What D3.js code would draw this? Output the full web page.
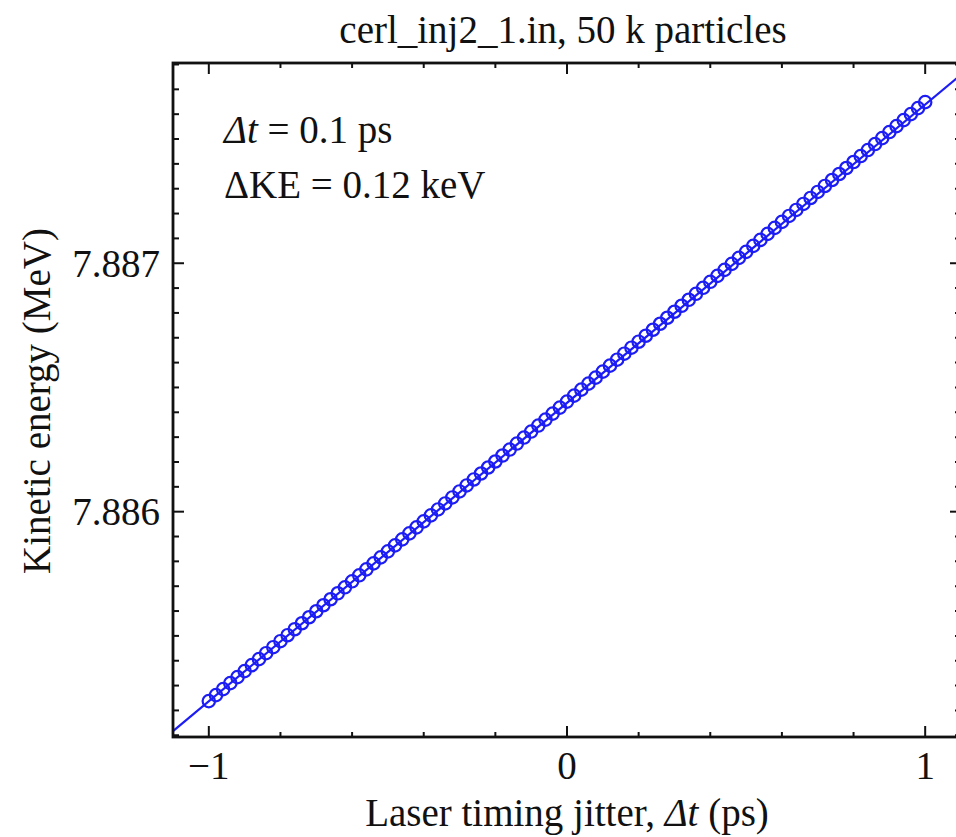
<!DOCTYPE html>
<html>
  <head>
    <meta http-equiv="Content-Type" content="text/html; charset=utf-8" />
    <style>
    body {
      margin: 0;
      background: #fff;
      overflow: hidden;
    }
    svg text {
      font-family: "Liberation Serif", "DejaVu Serif", serif;
      fill: #111;
    }
    </style>
    <script src="https://cdn.jsdelivr.net/npm/d3@7"></script>
  </head>
  <body>
    <script>
    // laser timing jitter (ps)
    var jitter = [
      -1, -0.98, -0.96, -0.94, -0.92, -0.9, -0.88, -0.86, -0.84, -0.82,
      -0.8, -0.78, -0.76, -0.74, -0.72, -0.7, -0.68, -0.66, -0.64, -0.62,
      -0.6, -0.58, -0.56, -0.54, -0.52, -0.5, -0.48, -0.46, -0.44, -0.42,
      -0.4, -0.38, -0.36, -0.34, -0.32, -0.3, -0.28, -0.26, -0.24, -0.22,
      -0.2, -0.18, -0.16, -0.14, -0.12, -0.1, -0.08, -0.06, -0.04, -0.02,
      0, 0.02, 0.04, 0.06, 0.08, 0.1, 0.12, 0.14, 0.16, 0.18,
      0.2, 0.22, 0.24, 0.26, 0.28, 0.3, 0.32, 0.34, 0.36, 0.38,
      0.4, 0.42, 0.44, 0.46, 0.48, 0.5, 0.52, 0.54, 0.56, 0.58,
      0.6, 0.62, 0.64, 0.66, 0.68, 0.7, 0.72, 0.74, 0.76, 0.78,
      0.8, 0.82, 0.84, 0.86, 0.88, 0.9, 0.92, 0.94, 0.96, 0.98,
      1
    ];
    // kinetic energy (MeV)
    var kineticEnergy = [
      7.8852375, 7.8852616, 7.8852857, 7.8853098, 7.8853339, 7.8853581, 7.8853822, 7.8854063, 7.8854304, 7.8854545,
      7.8854786, 7.8855027, 7.8855268, 7.8855509, 7.8855750, 7.8855992, 7.8856233, 7.8856474, 7.8856715, 7.8856956,
      7.8857197, 7.8857438, 7.8857679, 7.8857920, 7.8858161, 7.8858403, 7.8858644, 7.8858885, 7.8859126, 7.8859367,
      7.8859608, 7.8859849, 7.8860090, 7.8860331, 7.8860572, 7.8860814, 7.8861055, 7.8861296, 7.8861537, 7.8861778,
      7.8862019, 7.8862260, 7.8862501, 7.8862742, 7.8862983, 7.8863225, 7.8863466, 7.8863707, 7.8863948, 7.8864189,
      7.8864430, 7.8864671, 7.8864912, 7.8865153, 7.8865394, 7.8865636, 7.8865877, 7.8866118, 7.8866359, 7.8866600,
      7.8866841, 7.8867082, 7.8867323, 7.8867564, 7.8867805, 7.8868047, 7.8868288, 7.8868529, 7.8868770, 7.8869011,
      7.8869252, 7.8869493, 7.8869734, 7.8869975, 7.8870216, 7.8870458, 7.8870699, 7.8870940, 7.8871181, 7.8871422,
      7.8871663, 7.8871904, 7.8872145, 7.8872386, 7.8872627, 7.8872869, 7.8873110, 7.8873351, 7.8873592, 7.8873833,
      7.8874074, 7.8874315, 7.8874556, 7.8874797, 7.8875038, 7.8875280, 7.8875521, 7.8875762, 7.8876003, 7.8876244,
      7.8876485
    ];
    // linear fit, end points across the frame
    var fitJitter = [-1.1, 1.1];
    var fitEnergy = [7.8851170, 7.8877590];

    var xTicks = [-1, 0, 1];
    var xTickLabels = ["\u22121", "0", "1"];
    var yTicks = [7.886, 7.887];
    var yTickLabels = ["7.886", "7.887"];

    var xDomain = [-1.1, 1.1];
    var yDomain = [7.885093, 7.887806];

    var width = 956, height = 837;
    var margin = {top: 63, right: -5, bottom: 100, left: 173};
    var w = width - margin.left - margin.right,
        h = height - margin.top - margin.bottom;

    var svg = d3.select("body").append("svg")
        .attr("width", width)
        .attr("height", height);

    var x = d3.scaleLinear().domain(xDomain).range([0, w]);
    var y = d3.scaleLinear().domain(yDomain).range([h, 0]);

    var g = svg.append("g")
        .attr("transform", "translate(" + margin.left + "," + margin.top + ")");

    var blue = "#1c1cf5";
    var fs = "39px";

    // minor ticks every 0.2 ps, 0.0001 MeV
    var xMinor = d3.range(-10, 11, 2).map(function(d){ return d / 10; });
    var yMinor = d3.range(78851, 78879).map(function(d){ return d / 10000; })
        .filter(function(d){ return d >= yDomain[0] && d <= yDomain[1]; });

    function isMajor(v, list){
      return list.some(function(t){ return Math.abs(t - v) < 1e-7; });
    }

    // bottom + top ticks
    var xt = g.append("g").attr("class", "xticks");
    xMinor.forEach(function(v){
      var len = isMajor(v, xTicks) ? 11 : 5;
      xt.append("line").attr("x1", x(v)).attr("x2", x(v)).attr("y1", h).attr("y2", h - len);
      xt.append("line").attr("x1", x(v)).attr("x2", x(v)).attr("y1", 0).attr("y2", len);
    });
    xt.selectAll("line").attr("stroke", "#111").attr("stroke-width", 2);

    // left + right ticks
    var yt = g.append("g").attr("class", "yticks");
    yMinor.forEach(function(v){
      var len = isMajor(v, yTicks) ? 11 : 6;
      yt.append("line").attr("x1", 0).attr("x2", len).attr("y1", y(v)).attr("y2", y(v));
      yt.append("line").attr("x1", w).attr("x2", w - len).attr("y1", y(v)).attr("y2", y(v));
    });
    yt.selectAll("line").attr("stroke", "#111").attr("stroke-width", 2);

    // fit line
    var line = d3.line()
        .x(function(d){ return x(d[0]); })
        .y(function(d){ return y(d[1]); });
    g.append("path")
        .datum(d3.zip(fitJitter, fitEnergy))
        .attr("d", line)
        .attr("fill", "none")
        .attr("stroke", blue)
        .attr("stroke-width", 2.2);

    // data points
    g.selectAll(".pt")
      .data(d3.zip(jitter, kineticEnergy))
      .enter().append("circle")
        .attr("class", "pt")
        .attr("cx", function(d){ return x(d[0]); })
        .attr("cy", function(d){ return y(d[1]); })
        .attr("r", 6.2)
        .attr("fill", "none")
        .attr("stroke", blue)
        .attr("stroke-width", 2.2);

    // frame
    g.append("rect")
        .attr("width", w).attr("height", h)
        .attr("fill", "none")
        .attr("stroke", "#111")
        .attr("stroke-width", 2.8);

    // tick labels
    g.selectAll(".xlab")
      .data(xTicks)
      .enter().append("text")
        .attr("x", function(d){ return x(d); })
        .attr("y", h + 42)
        .attr("text-anchor", "middle")
        .style("font-size", fs)
        .text(function(d, i){ return xTickLabels[i]; });

    g.selectAll(".ylab")
      .data(yTicks)
      .enter().append("text")
        .attr("x", -13)
        .attr("y", function(d){ return y(d) + 13.5; })
        .attr("text-anchor", "end")
        .style("font-size", fs)
        .text(function(d, i){ return yTickLabels[i]; });

    // title
    svg.append("text")
        .attr("x", 563).attr("y", 43)
        .attr("text-anchor", "middle")
        .style("font-size", fs)
        .text("cerl_inj2_1.in, 50 k particles");

    // axis titles
    var xl = svg.append("text")
        .attr("x", 567).attr("y", 826)
        .attr("text-anchor", "middle")
        .style("font-size", fs);
    xl.append("tspan").text("Laser timing jitter, ");
    xl.append("tspan").style("font-style", "italic").text("\u0394t");
    xl.append("tspan").text(" (ps)");

    svg.append("text")
        .attr("transform", "translate(50,401) rotate(-90)")
        .attr("text-anchor", "middle")
        .style("font-size", fs)
        .text("Kinetic energy (MeV)");

    // annotation
    var a1 = svg.append("text")
        .attr("x", 224).attr("y", 143)
        .style("font-size", fs);
    a1.append("tspan").style("font-style", "italic").text("\u0394t");
    a1.append("tspan").text(" = 0.1 ps");

    svg.append("text")
        .attr("x", 224).attr("y", 198)
        .style("font-size", fs)
        .text("\u0394KE = 0.12 keV");
    </script>
  </body>
</html>
